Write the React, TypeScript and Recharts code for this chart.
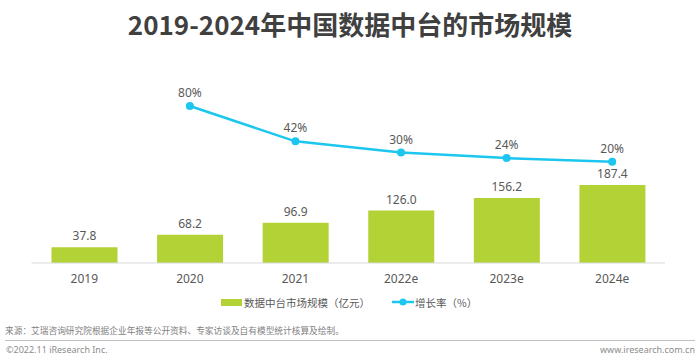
import React from 'react';
import { ComposedChart, Bar, Line, XAxis, YAxis, LabelList } from 'recharts';

const categories = ['2019', '2020', '2021', '2022e', '2023e', '2024e'];
const marketSize = [37.8, 68.2, 96.9, 126.0, 156.2, 187.4];
const growthRate: (number | null)[] = [null, 80, 42, 30, 24, 20];

const titleText = '2019-2024年中国数据中台的市场规模';
const barName = '数据中台市场规模（亿元）';
const lineName = '增长率（%）';
const sourceText = '来源：艾瑞咨询研究院根据企业年报等公开资料、专家访谈及自有模型统计核算及绘制。';
const copyrightText = '©2022.11 iResearch Inc.';
const siteText = 'www.iresearch.com.cn';

const data = categories.map((c, i) => ({ name: c, size: marketSize[i], rate: growthRate[i] }));

const GREEN = '#b2d235';
const CYAN = '#1cc6ef';
const FONT = '"Noto Sans", "Noto Sans CJK SC", sans-serif';
const CJK = '"Noto Sans CJK SC", "Noto Sans", sans-serif';

export default function App() {
  return (
    <div style={{ position: 'absolute', left: 0, top: 0, width: 700, height: 362, background: '#fff', overflow: 'hidden', fontFamily: FONT }}>
      <div style={{ position: 'absolute', left: 0, top: 8, width: 700, textAlign: 'center', fontFamily: CJK, fontWeight: 700, fontSize: 26, lineHeight: '32px', color: '#404040' }}>
        {titleText}
      </div>
      <div style={{ position: 'absolute', left: 0, top: 0 }}>
        <ComposedChart width={700} height={290} data={data} margin={{ top: 90, right: 35, left: 31.5, bottom: 0 }}>
          <XAxis
            dataKey="name"
            height={27}
            interval={0}
            axisLine={{ stroke: '#d9d9d9', strokeWidth: 1 }}
            tickLine={false}
            tickMargin={5}
            tick={{ fill: '#595959', fontSize: 12, fontFamily: FONT }}
          />
          <YAxis yAxisId="l" hide domain={[0, 416]} allowDataOverflow />
          <YAxis yAxisId="r" hide orientation="right" domain={[-88.8, 97.2]} allowDataOverflow />
          <Bar yAxisId="l" dataKey="size" barSize={66} fill={GREEN} isAnimationActive={false}>
            <LabelList
              dataKey="size"
              position="top"
              offset={7}
              fill="#595959"
              fontSize={12}
              fontFamily={FONT}
              formatter={(v: any) => Number(v).toFixed(1)}
            />
          </Bar>
          <Line
            yAxisId="r"
            dataKey="rate"
            stroke={CYAN}
            strokeWidth={2.5}
            dot={{ r: 4, fill: CYAN, stroke: CYAN, strokeWidth: 0 }}
            activeDot={false}
            isAnimationActive={false}
          >
            <LabelList
              dataKey="rate"
              position="top"
              offset={9}
              fill="#595959"
              fontSize={12}
              fontFamily={FONT}
              formatter={(v: any) => (v == null ? '' : `${v}%`)}
            />
          </Line>
        </ComposedChart>
      </div>
      <div style={{ position: 'absolute', top: 294, left: 221, height: 16, display: 'flex', alignItems: 'center', fontFamily: CJK, fontSize: 10.5, color: '#595959', whiteSpace: 'nowrap' }}>
        <span style={{ display: 'inline-block', width: 21, height: 7, background: GREEN, marginRight: 2 }} />
        <span>{barName}</span>
      </div>
      <div style={{ position: 'absolute', top: 294, left: 392, height: 16, display: 'flex', alignItems: 'center', fontFamily: CJK, fontSize: 10.5, color: '#595959', whiteSpace: 'nowrap' }}>
        <svg width={22} height={16} style={{ marginRight: 1 }}>
          <line x1={0} y1={8} x2={22} y2={8} stroke={CYAN} strokeWidth={2.5} />
          <circle cx={11} cy={8} r={3.5} fill={CYAN} />
        </svg>
        <span>{lineName}</span>
      </div>
      <div style={{ position: 'absolute', top: 324, left: 5, fontFamily: CJK, fontSize: 8.7, lineHeight: '14px', color: '#7f7f7f', whiteSpace: 'nowrap' }}>
        {sourceText}
      </div>
      <div style={{ position: 'absolute', top: 340, left: 5, width: 690, height: 1, background: '#bfbfbf' }} />
      <div style={{ position: 'absolute', top: 343, left: 6, fontFamily: FONT, fontSize: 9, lineHeight: '14px', color: '#8c8c8c', whiteSpace: 'nowrap' }}>
        {copyrightText}
      </div>
      <div style={{ position: 'absolute', top: 343, right: 5, fontFamily: FONT, fontSize: 9, lineHeight: '14px', color: '#8c8c8c', whiteSpace: 'nowrap' }}>
        {siteText}
      </div>
    </div>
  );
}
